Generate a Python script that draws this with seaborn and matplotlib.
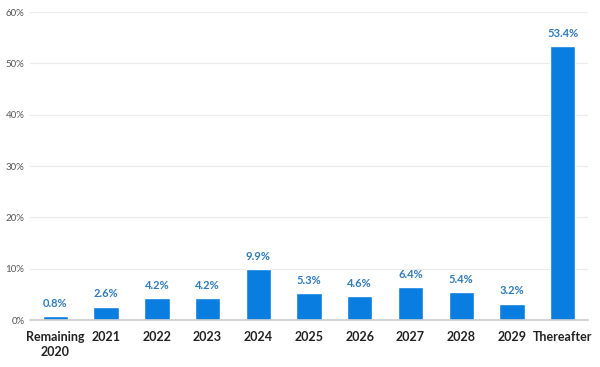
import matplotlib
matplotlib.use('Agg')
import matplotlib.pyplot as plt
import seaborn as sns
import pandas as pd
from matplotlib.ticker import PercentFormatter

sns.set_style("whitegrid")
plt.rcParams['font.family'] = ['Lato', 'DejaVu Sans']

categories = ['Remaining\n2020', '2021', '2022', '2023', '2024', '2025',
              '2026', '2027', '2028', '2029', 'Thereafter']
values = [0.8, 2.6, 4.2, 4.2, 9.9, 5.3, 4.6, 6.4, 5.4, 3.2, 53.4]

df = pd.DataFrame({'period': categories, 'share': values})

fig = plt.figure(figsize=(6, 3.67), dpi=100)
ax = fig.add_axes([0.05, 0.128, 0.93, 0.839])

sns.barplot(data=df, x='period', y='share', color='#0a7de0', width=0.5,
            saturation=1, ax=ax)

# value labels above bars
for i, v in enumerate(values):
    ax.text(i, v + 1.4, f'{v:.1f}%', ha='center', va='bottom',
            fontsize=8, fontweight='bold', color='#2f7bbd')

ax.set_ylim(0, 60)
ax.set_yticks(range(0, 61, 10))
ax.yaxis.set_major_formatter(PercentFormatter(decimals=0))
ax.set_xlim(-0.5, len(categories) - 0.5)
ax.set_xlabel('')
ax.set_ylabel('')
ax.tick_params(axis='y', labelsize=7, colors='#555555', length=0, pad=4)
ax.tick_params(axis='x', labelsize=9, colors='#222222', length=0, pad=8)
for lbl in ax.get_xticklabels():
    lbl.set_fontweight('bold')
    lbl.set_linespacing(1.3)
ax.grid(axis='x', visible=False)
ax.grid(axis='y', color='#ebebeb', linewidth=0.8)
for s in ['top', 'right', 'left']:
    ax.spines[s].set_visible(False)
ax.spines['bottom'].set_color('#cccccc')
ax.spines['bottom'].set_linewidth(1.2)

plt.savefig('out.png', dpi=100)
